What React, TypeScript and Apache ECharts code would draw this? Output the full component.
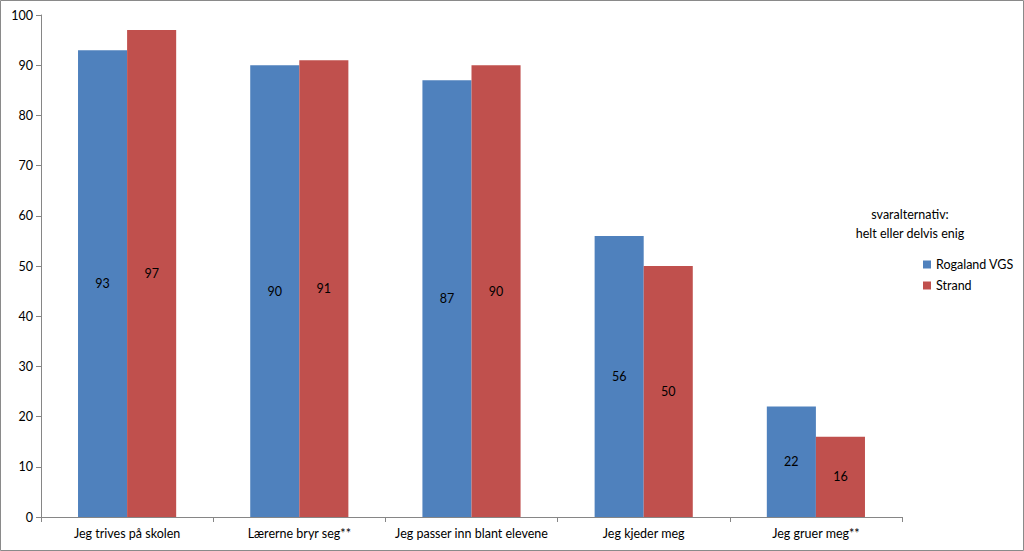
import React, { useEffect, useRef } from "react";
import * as echarts from "echarts";

const categories = [
  "Jeg trives på skolen",
  "Lærerne bryr seg**",
  "Jeg passer inn blant elevene",
  "Jeg kjeder meg",
  "Jeg gruer meg**",
];
const rogaland = [93, 90, 87, 56, 22];
const strand = [97, 91, 90, 50, 16];
const seriesNames = ["Rogaland VGS", "Strand"];
const legendTitle = "svaralternativ:\nhelt eller delvis enig";

const FONT = "Lato, 'Open Sans', sans-serif";

export default function App() {
  const ref = useRef<HTMLDivElement>(null);
  useEffect(() => {
    document.body.style.margin = "0";
    const chart = echarts.init(ref.current!, null, { renderer: "svg" });
    chart.setOption({
      animation: false,
      textStyle: { fontFamily: FONT },
      grid: { left: 41, right: 122, top: 15, bottom: 34 },
      graphic: [
        {
          type: "rect",
          shape: { x: 0.5, y: 0.5, width: 1023, height: 550 },
          style: { fill: "none", stroke: "#8a8a8a", lineWidth: 1 },
          silent: true,
        },
        {
          type: "text",
          x: 910,
          y: 205,
          style: {
            text: legendTitle,
            fontFamily: FONT,
            fontSize: 12.5,
            fill: "#000",
            align: "center",
            verticalAlign: "top",
            lineHeight: 19,
          },
        },
      ],
      legend: {
        orient: "vertical",
        left: 918,
        top: 253,
        itemWidth: 8,
        itemHeight: 8,
        itemGap: 8,
        icon: "rect",
        textStyle: { fontFamily: FONT, fontSize: 12.5, color: "#000" },
        data: seriesNames,
      },
      xAxis: {
        type: "category",
        data: categories,
        axisLine: { lineStyle: { color: "#868686" } },
        axisTick: { show: true, interval: 0, length: 5, lineStyle: { color: "#868686" } },
        axisLabel: { interval: 0, color: "#000", fontSize: 12.5, fontFamily: FONT, margin: 10 },
      },
      yAxis: {
        type: "value",
        min: 0,
        max: 100,
        interval: 10,
        splitLine: { show: false },
        axisLine: { show: true, lineStyle: { color: "#868686" } },
        axisTick: { show: true, length: 5, lineStyle: { color: "#868686" } },
        axisLabel: { color: "#000", fontSize: 12.5, fontFamily: FONT, margin: 8 },
      },
      series: [
        {
          name: seriesNames[0],
          type: "bar",
          data: rogaland,
          itemStyle: { color: "#4F81BD" },
          barGap: "0%",
          barCategoryGap: "43%",
          label: { show: true, position: "inside", color: "#000", fontSize: 12.5, fontFamily: FONT },
        },
        {
          name: seriesNames[1],
          type: "bar",
          data: strand,
          itemStyle: { color: "#C0504D" },
          barGap: "0%",
          barCategoryGap: "43%",
          label: { show: true, position: "inside", color: "#000", fontSize: 12.5, fontFamily: FONT },
        },
      ],
    });
    return () => chart.dispose();
  }, []);
  return <div ref={ref} style={{ width: 1024, height: 551 }} />;
}
